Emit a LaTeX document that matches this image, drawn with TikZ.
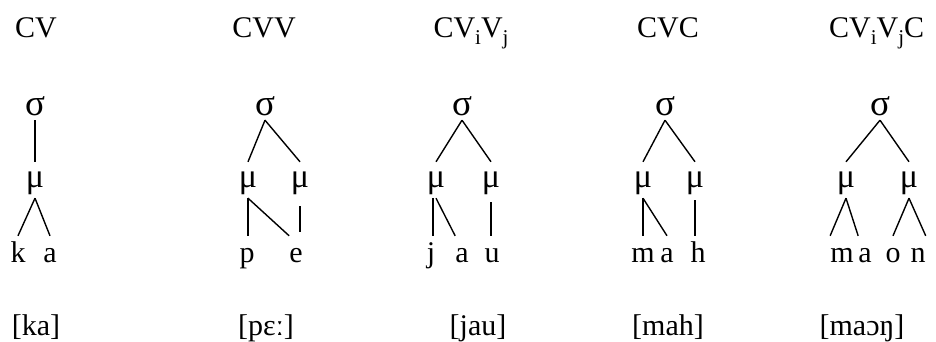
\documentclass[tikz,border=0pt]{standalone}
\usepackage{fontspec}
\setmainfont{Liberation Serif}
\newcommand{\subx}[1]{\raisebox{-0.45ex}{\fontsize{21}{21}\selectfont #1}}
\begin{document}
\begin{tikzpicture}[x=1pt,y=-1pt,
  txt/.style={font=\fontsize{30}{32}\selectfont, inner sep=0pt, anchor=base},
  sig/.style={txt, font=\fontsize{37}{40}\selectfont, text height=14pt, text depth=0pt, inner ysep=5pt, inner xsep=0pt},
  mu/.style={txt, font=\fontsize{34}{36}\selectfont, text height=19pt, text depth=5pt, inner ysep=6pt, inner xsep=0pt},
  seg/.style={txt, text height=20pt, text depth=6pt, inner ysep=6pt, inner xsep=0pt},
  br/.style={line width=1.4pt}]
\path[use as bounding box] (0,0) rectangle (936,342);
% titles
\node[txt] (t1) at (36,38) {CV};
\node[txt] (t2) at (264,38) {CVV};
\node[txt] (t3) at (471,38) {CV\subx{i}V\subx{j}};
\node[txt] (t4) at (668,38) {CVC};
\node[txt, anchor=base west] (t5) at (829,38) {CV\subx{i}V\subx{j}C};
% column 1
\node[sig] (s1) at (35,115) {σ};
\node[mu] (m1) at (35,187) {μ};
\node[seg] (k1) at (18,262) {k};
\node[seg] (a1) at (50,262) {a};
\draw[br] (s1.south) -- (s1.south |- m1.north);
\draw[br] (m1.south) -- (k1.north);
\draw[br] (m1.south) -- (a1.north);
% column 2
\node[sig] (s2) at (265,115) {σ};
\node[mu] (m2a) at (248,187) {μ};
\node[mu] (m2b) at (300,187) {μ};
\node[seg] (p2) at (247,262) {p};
\node[seg] (e2) at (296,262) {e};
\draw[br] (s2.south) -- (m2a.north);
\draw[br] (s2.south) -- (m2b.north);
\draw[br] (m2a.south) -- (m2a.south |- p2.north);
\draw[br] (m2a.south) -- (e2.north west);
\draw[br,shorten <=8pt,shorten >=4pt] (m2b.south) -- (m2b.south |- e2.north);
% column 3
\node[sig] (s3) at (462,115) {σ};
\node[mu] (m3a) at (436,187) {μ};
\node[mu] (m3b) at (491,187) {μ};
\node[seg] (j3) at (431,262) {j};
\node[seg] (a3) at (462,262) {a};
\node[seg] (u3) at (492,262) {u};
\draw[br] (s3.south) -- (m3a.north);
\draw[br] (s3.south) -- (m3b.north);
\draw[br] (m3a.south) ++(-3,0) coordinate (c3) -- (c3 |- j3.north);
\draw[br] (m3a.south) -- (a3.north west);
\draw[br,shorten <=4pt] (m3b.south) -- (m3b.south |- u3.north);
% column 4
\node[sig] (s4) at (665,115) {σ};
\node[mu] (m4a) at (643,187) {μ};
\node[mu] (m4b) at (695,187) {μ};
\node[seg] (mm4) at (643,262) {m};
\node[seg] (a4) at (667,262) {a};
\node[seg] (h4) at (698,262) {h};
\draw[br] (s4.south) -- (m4a.north);
\draw[br] (s4.south) -- (m4b.north);
\draw[br] (m4a.south) -- (m4a.south |- mm4.north);
\draw[br] (m4a.south) -- (a4.north);
\draw[br,shorten <=2pt] (m4b.south) -- (m4b.south |- h4.north);
% column 5
\node[sig] (s5) at (880,115) {σ};
\node[mu] (m5a) at (846,187) {μ};
\node[mu] (m5b) at (909,187) {μ};
\node[seg] (mm5) at (842,262) {m};
\node[seg] (a5) at (865,262) {a};
\node[seg] (o5) at (893,262) {o};
\node[seg] (n5) at (918,262) {n};
\draw[br] (s5.south) -- (m5a.north);
\draw[br] (s5.south) -- (m5b.north);
\draw[br] (m5a.south) -- (mm5.north west);
\draw[br] (m5a.south) -- (a5.north west);
\draw[br] (m5b.south) -- (o5.north);
\draw[br] (m5b.south) -- (n5.north east);
% transcriptions
\node[txt] (r1) at (36,335) {[ka]};
\node[txt] (r2) at (266,335) {[pɛː]};
\node[txt] (r3) at (478,335) {[jau]};
\node[txt] (r4) at (668,335) {[mah]};
\node[txt] (r5) at (862,335) {[maɔŋ]};
\end{tikzpicture}
\end{document}
